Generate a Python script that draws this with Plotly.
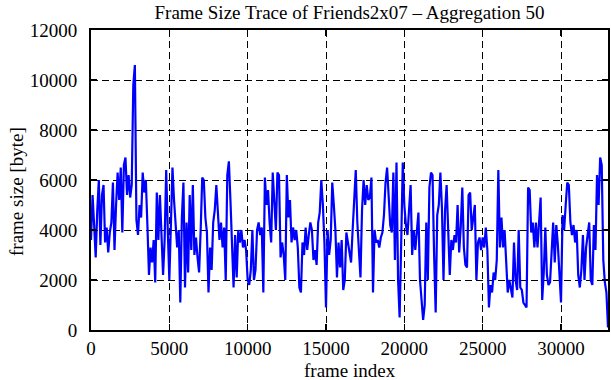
import plotly.graph_objects as go

# Aggregated frame sizes (bytes), read every ~100 frames from the reference
frame_step = 100
sizes_a = [3600, 5400, 4200, 2900, 4800, 6000, 3400, 5400, 5800, 3500,
           4100, 3100, 3900, 4300, 5900, 3200, 5000, 6300, 5200, 6500,
           3900, 6600, 6900, 5400, 6200, 5300, 5800, 9800, 10600, 4400,
           3800, 5000, 4500, 6300, 5500, 6000, 4200, 2200, 3300, 2700,
           3600, 1900, 5500, 3600, 5400, 3500, 2200, 3600, 6400, 4000,
           2000]
sizes_b = [4200, 6500, 5200, 4100, 3300, 4000, 1100, 4500, 5900, 1700,
           4300, 2300, 5400, 3200, 5800, 3000, 3700, 2900, 2300, 4000,
           6100, 6000, 4500, 3900, 1500, 3300, 2400, 4300, 4800, 5800,
           4800, 3600, 4300, 3300, 4100, 2000, 6200, 6750, 5200, 3200,
           1700, 3800, 2100, 4000, 3500, 4000, 3300, 3600, 3200, 2000]
sizes_c = [1800, 2400, 4000, 2000, 2400, 4000, 4300, 3800, 4100, 1500,
           6100, 5000, 5600, 4300, 3500, 6300, 5200, 4000, 6300, 6200,
           2900, 3500, 3000, 2000, 6200, 4500, 5200, 3500, 4100, 3600,
           4000, 3300, 1700, 1500, 3500, 3000, 4100, 3200, 3800, 4300,
           4000, 2800, 3200, 2600, 4300, 4700, 6000, 5000, 3500, 900]
sizes_d = [4000, 3000, 3600, 5900, 5000, 4000, 2100, 3500, 2500, 3600,
           1600, 2000, 3900, 3500, 3100, 2700, 4000, 5300, 6400, 4300,
           3000, 2100, 4800, 6000, 5000, 5800, 5200, 5300, 6100, 1500,
           4000, 3500, 3600, 3300, 3700, 3900, 4600, 5900, 6500, 5000,
           4200, 3900, 6300, 2800, 6700, 2000, 500, 3500, 6700, 5000,
           4200, 3800]
sizes_e = [5100, 5800, 3000, 4000, 3200, 4000, 4700, 2000, 1200, 400,
           1000, 4300, 2000, 5700, 6300, 6200, 3000, 700, 4600, 5000,
           6300, 4900, 2000, 4800, 5800, 3500, 2200, 3600, 3200, 3800,
           3500, 5000, 3100, 4100, 5700, 3300, 2600, 2500, 5400, 5500,
           4000, 4500, 5000, 2000, 3500, 3700, 3200, 3700, 3300, 4100,
           3200]
sizes_f = [900, 1800, 1500, 2300, 2000, 2800, 6400, 3300, 4500, 3300,
           4000, 2800, 1500, 2000, 1600, 1300, 3500, 2000, 1600, 4000,
           1700, 1600, 1100, 1000, 900, 5700, 5600, 3900, 4300, 3300,
           4300, 3300, 4200, 5300, 1200, 2300, 4100, 2200, 1800, 1900,
           3100, 4300, 2700, 4200, 3400, 2400, 1100, 4600, 4000, 5000,
           5900, 5800]
sizes_g = [4300, 3800, 4200, 3500, 4000, 2200, 1700, 2400, 3800, 2000,
           3300, 3800, 4300, 2000, 1800, 4200, 3200, 6200, 5000, 6900,
           6600, 2800, 1900, 1500, 100]

frame_sizes = sizes_a + sizes_b + sizes_c + sizes_d + sizes_e + sizes_f + sizes_g
frame_index = [i * frame_step for i in range(len(frame_sizes))]

x_ticks = [0, 5000, 10000, 15000, 20000, 25000, 30000]
y_ticks = [0, 2000, 4000, 6000, 8000, 10000, 12000]

title_text = "Frame Size Trace of Friends2x07 \u2013 Aggregation 50"
x_label = "frame index"
y_label = "frame size [byte]"

FONT = "Liberation Serif, Times New Roman, serif"
FS = 19

W, H = 611, 380
L, R, T, B = 91, 3, 30, 50
PW, PH = W - L - R, H - T - B


def px_to_paper(px, py):
    return (px - L) / PW, (H - B - py) / PH


fig = go.Figure(go.Scatter(
    x=frame_index, y=frame_sizes, mode="lines",
    line=dict(color="#0000ff", width=2.2),
    hoverinfo="skip", showlegend=False,
))

axis_common = dict(
    showline=True, linecolor="black", linewidth=2, mirror="ticks",
    ticks="inside", ticklen=6, tickwidth=1.5, tickcolor="black",
    showgrid=True, gridcolor="black", gridwidth=1, griddash="7px,4px",
    zeroline=False, automargin=False, fixedrange=True,
    tickfont=dict(family=FONT, size=FS, color="black"),
)

xl_x, xl_y = px_to_paper(349.5, 370)
yl_x, yl_y = px_to_paper(16, 192)

fig.update_layout(
    template="none",
    width=W, height=H,
    margin=dict(l=L, r=R, t=T, b=B, pad=0),
    paper_bgcolor="white", plot_bgcolor="white",
    font=dict(family=FONT, size=FS, color="black"),
    title=dict(text=title_text, x=0.5, xref="paper", xanchor="center",
               y=1 - 12 / H, yref="container", yanchor="middle",
               font=dict(family=FONT, size=FS, color="black")),
    xaxis=dict(range=[0, 33000], tickvals=x_ticks,
               ticktext=[str(v) for v in x_ticks],
               ticklabelstandoff=0, **axis_common),
    yaxis=dict(range=[0, 12000], tickvals=y_ticks,
               ticktext=[str(v) for v in y_ticks],
               ticklabelstandoff=8, **axis_common),
    annotations=[
        dict(text=x_label, xref="paper", yref="paper", x=xl_x, y=xl_y,
             xanchor="center", yanchor="middle", showarrow=False,
             font=dict(family=FONT, size=FS, color="black")),
        dict(text=y_label, xref="paper", yref="paper", x=yl_x, y=yl_y,
             xanchor="center", yanchor="middle", showarrow=False,
             textangle=-90,
             font=dict(family=FONT, size=FS, color="black")),
    ],
)

fig.write_html(
    "out.html",
    config={"displayModeBar": False, "staticPlot": True},
    post_script="document.body.style.margin='0';document.body.style.overflow='hidden';",
)
